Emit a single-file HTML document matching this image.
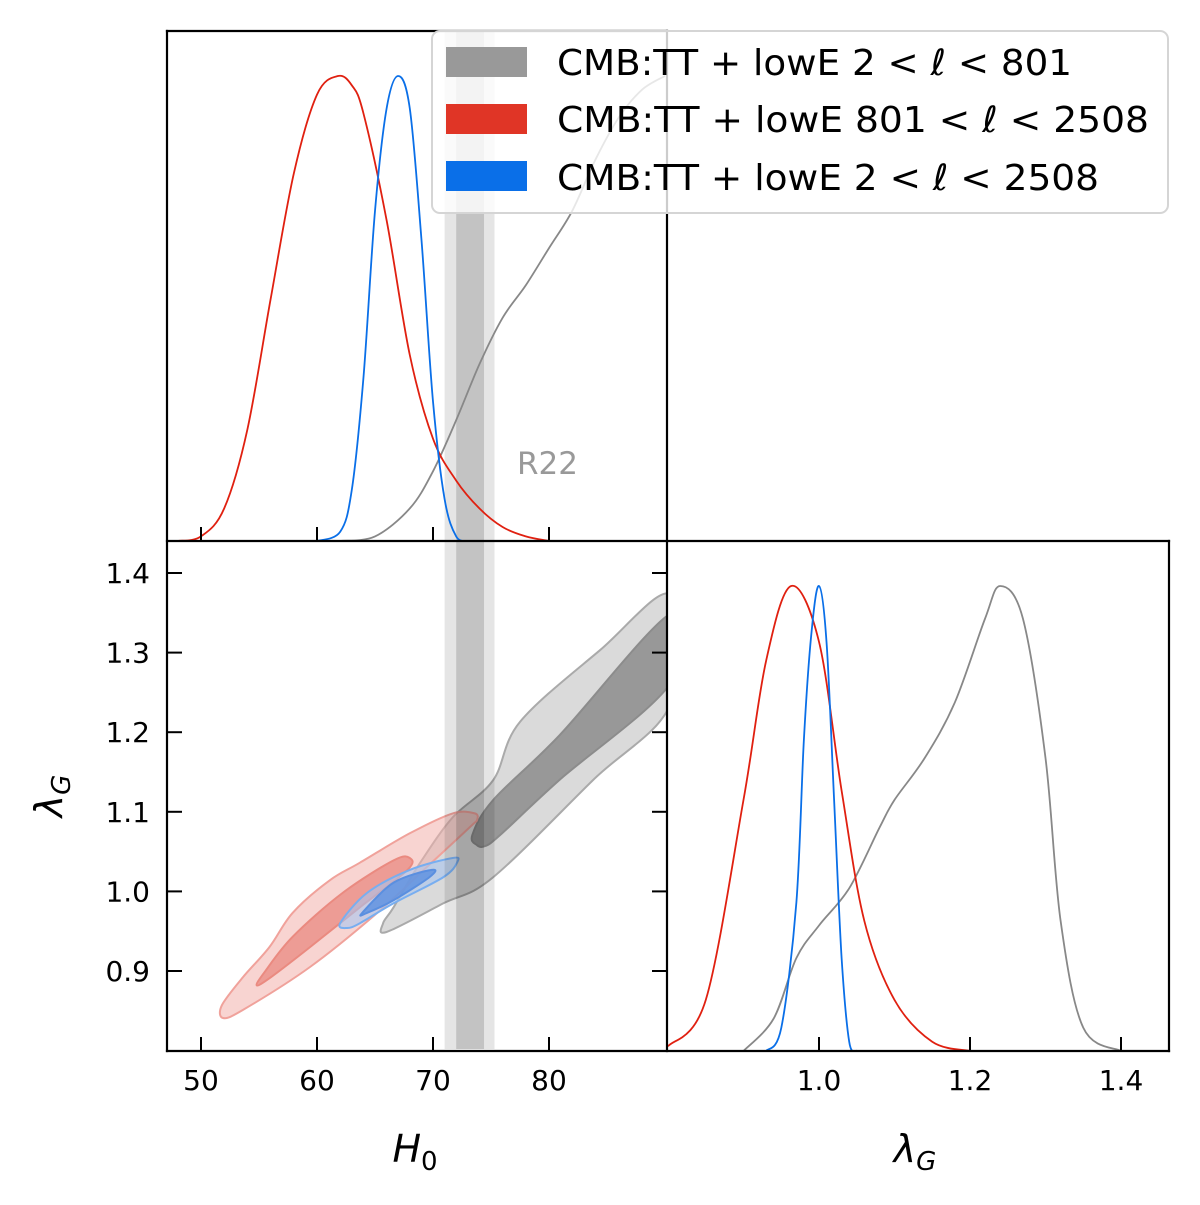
<!DOCTYPE html>
<html><head><meta charset="utf-8">
<style>
html,body{margin:0;padding:0;background:#fff;}
svg{display:block;font-family:"DejaVu Sans","Liberation Sans",sans-serif;}
</style></head>
<body>
<svg id="chart" width="1200" height="1205" viewBox="0 0 1200 1205" xmlns="http://www.w3.org/2000/svg">
<defs>
<clipPath id="clipTL"><rect x="167" y="31" width="500" height="510"/></clipPath>
<clipPath id="clipBL"><rect x="167" y="541" width="500" height="510"/></clipPath>
<clipPath id="clipBR"><rect x="667" y="541" width="502" height="510"/></clipPath>
</defs>
<g id="gTL" clip-path="url(#clipTL)"></g>
<g id="gBL" clip-path="url(#clipBL)"></g>
<g id="gBR" clip-path="url(#clipBR)"></g>
<g id="gAxes"></g>
<text x="517" y="474" font-size="31" fill="#999">R22</text>
<g>
<rect x="432" y="31" width="736" height="182" rx="8" fill="#fff" fill-opacity="0.8" stroke="#d5d5d5" stroke-width="2"/>
<rect x="446" y="47" width="81" height="30" fill="#999"/>
<rect x="446" y="104" width="81" height="30" fill="#e03526"/>
<rect x="446" y="161" width="81" height="30" fill="#0a6fe8"/>
<text x="557" y="75" font-size="36" textLength="515" lengthAdjust="spacingAndGlyphs">CMB:TT + lowE 2 &lt; <tspan font-style="italic">ℓ</tspan> &lt; 801</text>
<text x="557" y="132" font-size="36" textLength="592" lengthAdjust="spacingAndGlyphs">CMB:TT + lowE 801 &lt; <tspan font-style="italic">ℓ</tspan> &lt; 2508</text>
<text x="557" y="190" font-size="36" textLength="542" lengthAdjust="spacingAndGlyphs">CMB:TT + lowE 2 &lt; <tspan font-style="italic">ℓ</tspan> &lt; 2508</text>
</g>
<text x="415" y="1162" font-size="38" font-style="italic" text-anchor="middle">H<tspan font-size="26" dy="8" font-style="normal">0</tspan></text>
<text x="915" y="1162" font-size="38" font-style="italic" text-anchor="middle">λ<tspan font-size="26" dy="8">G</tspan></text>
<text transform="translate(62,796) rotate(-90)" font-size="38" font-style="italic" text-anchor="middle">λ<tspan font-size="26" dy="8">G</tspan></text>
</svg>
<script>
// ---- data ----
const h0Ticks = [50, 60, 70, 80];
const lamYTicks = [0.9, 1.0, 1.1, 1.2, 1.3, 1.4];
const lamXTicks = [1.0, 1.2, 1.4];
const r22Band1 = [72.0, 74.4];
const r22Band2 = [71.0, 75.3];
const redH0x = [48,50,52,54,56,58,60,61.8,63,64,66,68,70,72,74,76,78,80];
const redH0y = [0,0.01,0.07,0.24,0.52,0.79,0.96,1.0,0.98,0.92,0.69,0.40,0.22,0.13,0.07,0.03,0.01,0];
const blueH0x = [60,62,63,64,65,66,67,68,69,70,71,72,73];
const blueH0y = [0,0.02,0.11,0.35,0.71,0.93,1.0,0.93,0.65,0.30,0.09,0.01,0];
const grayH0x = [62,65,68,70,72,74,76,78,80,82,84,86,88,90];
const grayH0y = [0,0.01,0.07,0.15,0.26,0.38,0.48,0.55,0.63,0.71,0.82,0.91,0.97,1.0];
const redLx = [0.8,0.85,0.9,0.93,0.963,1.0,1.03,1.06,1.1,1.15,1.2];
const redLy = [0.01,0.11,0.54,0.84,1.0,0.88,0.56,0.28,0.11,0.02,0];
const blueLx = [0.93,0.95,0.97,0.98,0.99,1.0,1.01,1.02,1.03,1.04,1.05];
const blueLy = [0,0.05,0.32,0.67,0.9,1.0,0.88,0.54,0.2,0.02,0];
const grayLx = [0.9,0.94,0.97,1.0,1.04,1.08,1.1,1.14,1.18,1.22,1.24,1.27,1.3,1.32,1.35,1.4];
const grayLy = [0,0.07,0.2,0.27,0.35,0.48,0.54,0.63,0.75,0.93,1.0,0.93,0.63,0.28,0.05,0];
const grayOuter = [[65.7,0.960],[66.0,0.949],[70.9,0.985],[75.2,1.018],[83.8,1.140],[90.5,1.236],[90.5,1.373],[84.4,1.303],[77.5,1.213],[75.2,1.140],[71.7,1.093],[68.9,1.036],[66.6,0.980]];
const grayInner = [[73.8,1.058],[73.4,1.071],[75.2,1.115],[80.9,1.196],[90.5,1.349],[90.5,1.262],[80.9,1.140],[75.8,1.071],[74.5,1.057]];
const redOuter = [[51.9,0.841],[51.8,0.857],[53.6,0.892],[55.9,0.930],[57.9,0.973],[61.1,1.014],[63.7,1.036],[68.0,1.073],[71.7,1.098],[73.6,1.098],[73.8,1.090],[73.2,1.081],[69.5,1.031],[65.2,0.973],[59.4,0.905],[53.6,0.851]];
const redInner = [[54.8,0.882],[55.5,0.899],[57.9,0.943],[62.2,0.998],[66.6,1.039],[68.0,1.042],[67.8,1.027],[63.7,0.980],[59.4,0.930],[56.0,0.892]];
const blueOuter = [[62.0,0.960],[64.3,0.998],[68.0,1.027],[71.7,1.042],[72.1,1.037],[70.9,1.018],[66.6,0.985],[63.7,0.960],[62.6,0.954]];
const blueInner = [[63.9,0.973],[66.6,1.011],[69.9,1.027],[69.7,1.018],[66.6,0.989],[64.3,0.973]];

// ---- axes ----
const xH = h => 201 + (h - 50) * 11.6;
const yL = l => 971 - (l - 0.9) * 796;
const xL = l => 819 + (l - 1.0) * 755;
const yTop = d => 541 - d * 465;
const yBR = d => 1051 - d * 465;
const NS = "http://www.w3.org/2000/svg";
function mk(tag, attrs, parent) {
  const e = document.createElementNS(NS, tag);
  for (const k in attrs) e.setAttribute(k, attrs[k]);
  parent.appendChild(e);
  return e;
}
// Catmull-Rom smoothing of pixel points
function smooth(P, closed) {
  const n = P.length;
  const g = i => closed ? P[(i + n) % n] : P[Math.max(0, Math.min(n - 1, i))];
  let d = 'M' + P[0][0].toFixed(1) + ',' + P[0][1].toFixed(1);
  const m = closed ? n : n - 1;
  for (let i = 0; i < m; i++) {
    const p0 = g(i - 1), p1 = g(i), p2 = g(i + 1), p3 = g(i + 2);
    const c1 = [p1[0] + (p2[0] - p0[0]) / 6, p1[1] + (p2[1] - p0[1]) / 6];
    const c2 = [p2[0] - (p3[0] - p1[0]) / 6, p2[1] - (p3[1] - p1[1]) / 6];
    d += ' C' + c1.map(v => v.toFixed(1)).join(',') + ' ' + c2.map(v => v.toFixed(1)).join(',') + ' ' + p2[0].toFixed(1) + ',' + p2[1].toFixed(1);
  }
  return d + (closed ? 'Z' : '');
}
const gTL = document.getElementById('gTL'), gBL = document.getElementById('gBL'), gBR = document.getElementById('gBR'), gA = document.getElementById('gAxes');

function bands(g, y0, y1) {
  let b = mk('rect', {x: xH(r22Band2[0]), y: y0, width: xH(r22Band2[1]) - xH(r22Band2[0]), height: y1 - y0, fill: '#000', 'fill-opacity': 0.1}, g);
  
  
  b = mk('rect', {x: xH(r22Band1[0]), y: y0, width: xH(r22Band1[1]) - xH(r22Band1[0]), height: y1 - y0, fill: '#000', 'fill-opacity': 0.15}, g);
  
  
}
function curve(g, xs, ys, fx, fy, color, name) {
  const pts = xs.map((x, i) => [fx(x), fy(ys[i])]);
  const p = mk('path', {d: smooth(pts, false), fill: 'none', stroke: color, 'stroke-width': 1.8, 'stroke-linejoin': 'round'}, g);
  
  
}
function poly(g, pts, fill, stroke, op, name) {
  const px = pts.map(p => [xH(p[0]), yL(p[1])]);
  const p = mk('path', {d: smooth(px, true), fill: fill, 'fill-opacity': op, stroke: stroke, 'stroke-width': 2, 'stroke-linejoin': 'round'}, g);
  
  
}

// top panel
bands(gTL, 31, 541);
curve(gTL, grayH0x, grayH0y, xH, yTop, '#888', 'gray-h0-curve');
curve(gTL, redH0x, redH0y, xH, yTop, '#e02010', 'red-h0-curve');
curve(gTL, blueH0x, blueH0y, xH, yTop, '#0a6fe8', 'blue-h0-curve');

// contour panel
poly(gBL, grayOuter, '#d4d4d4', '#aaaaaa', 0.85, 'gray-contour-outer');
poly(gBL, grayInner, '#8c8c8c', '#8c8c8c', 0.85, 'gray-contour-inner');
poly(gBL, redOuter, '#f2b0ab', '#f0a29b', 0.55, 'red-contour-outer');
poly(gBL, redInner, '#ea8a80', '#ea8a80', 0.75, 'red-contour-inner');
poly(gBL, blueOuter, '#a8c4ef', '#78aef0', 0.6, 'blue-contour-outer');
poly(gBL, blueInner, '#5a8fe0', '#5a8fe0', 0.8, 'blue-contour-inner');
bands(gBL, 541, 1049);

// lambda marginal
curve(gBR, grayLx, grayLy, xL, yBR, '#888', 'gray-lambda-curve');
curve(gBR, redLx, redLy, xL, yBR, '#e02010', 'red-lambda-curve');
curve(gBR, blueLx, blueLy, xL, yBR, '#0a6fe8', 'blue-lambda-curve');

// frames
const fr = [[167,31,667,31],[167,31,167,1051],[667,31,667,1051],[167,541,1169,541],[167,1051,1169,1051],[1169,541,1169,1051]];
fr.forEach(f => {
  const l = mk('line', {x1: f[0], y1: f[1], x2: f[2], y2: f[3], stroke: '#000', 'stroke-width': 2.2, 'stroke-linecap': 'square'}, gA);
  
  
});
h0Ticks.forEach(h => {
  [[541, 527], [1051, 1037]].forEach(t => {
    const l = mk('line', {x1: xH(h), y1: t[0], x2: xH(h), y2: t[1], stroke: '#000', 'stroke-width': 2}, gA);
    
    
  });
  const tx = mk('text', {x: xH(h), y: 1090, 'font-size': 28, 'text-anchor': 'middle'}, gA);
  tx.textContent = h;
  
  
});
lamYTicks.forEach(v => {
  [[167, 182], [667, 652]].forEach(t => {
    const l = mk('line', {x1: t[0], y1: yL(v), x2: t[1], y2: yL(v), stroke: '#000', 'stroke-width': 2}, gA);
    
    
  });
  const tx = mk('text', {x: 150, y: yL(v) + 10, 'font-size': 28, 'text-anchor': 'end'}, gA);
  tx.textContent = v.toFixed(1);
  
  
});
lamXTicks.forEach(v => {
  const l = mk('line', {x1: xL(v), y1: 1051, x2: xL(v), y2: 1037, stroke: '#000', 'stroke-width': 2}, gA);
  
  
  const tx = mk('text', {x: xL(v), y: 1090, 'font-size': 28, 'text-anchor': 'middle'}, gA);
  tx.textContent = v.toFixed(1);
  
  
});
</script>
</body></html>
